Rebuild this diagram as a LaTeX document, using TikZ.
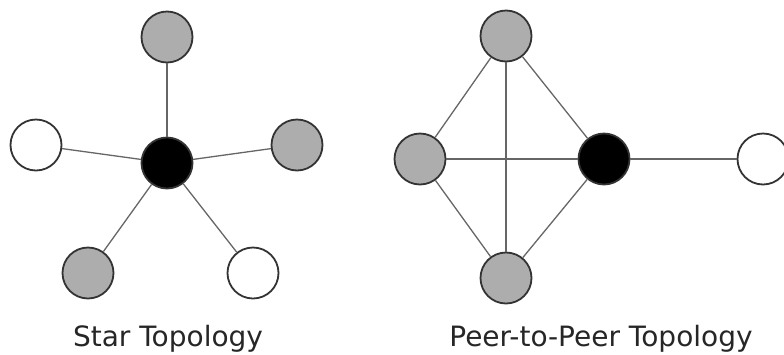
\documentclass[tikz,border=0pt]{standalone}
\usepackage{fontspec}
\setmainfont{DejaVu Sans}
\begin{document}
\begin{tikzpicture}[x=1pt,y=-1pt,
  nd/.style={circle,draw=black!80,line width=1.8pt,minimum size=51pt,inner sep=0pt},
  gnode/.style={nd,fill=black!32},
  wnode/.style={nd,fill=white},
  bnode/.style={nd,fill=black},
  edge/.style={draw=black!60,line width=1.3pt},
  lbl/.style={anchor=base,text=black!85,font=\fontsize{28}{32}\selectfont,inner sep=0pt}]
\clip (0,0) rectangle (784,354);
\useasboundingbox (0,0) rectangle (784,354);
% Star
\node[bnode] (sc) at (167,163) {};
\node[gnode] (st) at (167,37) {};
\node[wnode] (sl) at (36,145) {};
\node[gnode] (sr) at (297,145) {};
\node[gnode] (sbl) at (88,273) {};
\node[wnode] (sbr) at (253,273) {};
\draw[edge] (sc) -- (st);
\draw[edge] (sc) -- (sl);
\draw[edge] (sc) -- (sr);
\draw[edge] (sc) -- (sbl);
\draw[edge] (sc) -- (sbr);
\node[lbl] (slab) at (168,346) {Star Topology};
% P2P
\node[gnode] (pt) at (506,36) {};
\node[gnode] (pl) at (420,159) {};
\node[bnode] (pc) at (604,159) {};
\node[gnode] (pb) at (506,278) {};
\node[wnode] (pr) at (763,159) {};
\draw[edge] (pt) -- (pl);
\draw[edge] (pt) -- (pc);
\draw[edge] (pt) -- (pb);
\draw[edge] (pl) -- (pc);
\draw[edge] (pl) -- (pb);
\draw[edge] (pc) -- (pb);
\draw[edge] (pc) -- (pr);
\node[lbl] (plab) at (601,346) {Peer-to-Peer Topology};
\end{tikzpicture}
\end{document}
